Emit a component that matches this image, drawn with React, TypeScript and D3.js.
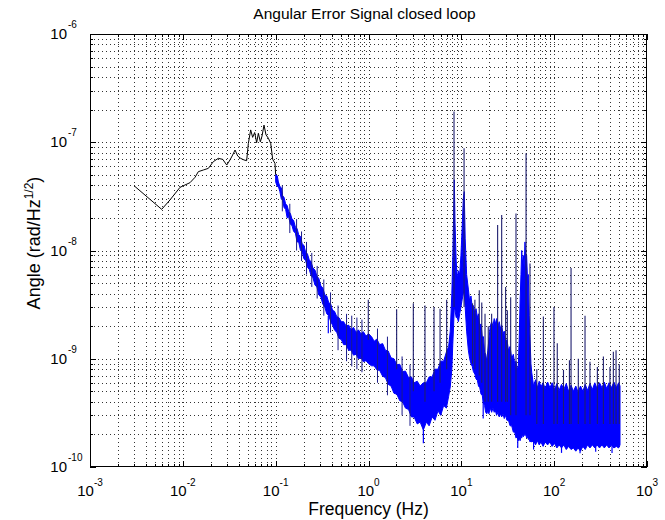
import React from 'react';
import * as d3 from 'd3';

// ---------- data ----------
const titleText = 'Angular Error Signal closed loop';
const xLabelText = 'Frequency (Hz)';
const xTickExps = [-3, -2, -1, 0, 1, 2, 3];
const yTickExps = [-10, -9, -8, -7, -6];

// black low-frequency trace
const lowFreq = [0.00301, 0.00592, 0.00727, 0.00932, 0.01055, 0.01194, 0.01352, 0.01469, 0.01663, 0.01883, 0.0213, 0.0241, 0.0269, 0.0297, 0.0322, 0.0344, 0.0365, 0.039, 0.042, 0.0456, 0.0487, 0.0508, 0.0538, 0.0565, 0.0594, 0.0624, 0.0651, 0.0684, 0.0713, 0.0749, 0.0787, 0.0834, 0.0884, 0.0929, 0.0983, 0.1];
const lowVal = [3.94e-8, 2.4e-8, 2.93e-8, 3.83e-8, 4.03e-8, 4.23e-8, 4.74e-8, 5.35e-8, 5.54e-8, 5.74e-8, 6.62e-8, 7.1e-8, 6.95e-8, 6.16e-8, 6.86e-8, 7.62e-8, 8.48e-8, 7.46e-8, 7.1e-8, 6.86e-8, 6.76e-8, 9.77e-8, 1.3e-7, 1.11e-7, 1.23e-7, 9.91e-8, 1.21e-7, 1.01e-7, 1.14e-7, 1.44e-7, 1.17e-7, 1.09e-7, 9.77e-8, 6.95e-8, 6.38e-8, 5.0e-8];

// blue spectrum: upper / lower edge of the dense trace
const bandFreq = [0.1, 0.104, 0.107, 0.111, 0.115, 0.119, 0.123, 0.128, 0.133, 0.138, 0.144, 0.15, 0.156, 0.163, 0.17, 0.177, 0.185, 0.193, 0.201, 0.21, 0.22, 0.23, 0.24, 0.252, 0.265, 0.278, 0.292, 0.307, 0.322, 0.338, 0.355, 0.373, 0.392, 0.41, 0.43, 0.455, 0.48, 0.51, 0.54, 0.575, 0.61, 0.65, 0.69, 0.735, 0.78, 0.83, 0.88, 0.94, 1.0,
  1.08, 1.15, 1.23, 1.32, 1.42, 1.52, 1.63, 1.75, 1.88, 2.02, 2.17, 2.33, 2.5, 2.7, 2.9, 3.1, 3.35, 3.6, 3.9, 4.2, 4.5, 4.85, 5.2, 5.6, 6.0, 6.45, 6.9, 7.3, 7.6, 7.9, 8.1, 8.25, 8.4, 8.55, 8.8, 9.05, 9.3, 9.6, 9.9, 10.2, 10.5, 10.75, 11.0, 11.4, 11.9, 12.3, 12.7, 13.1, 13.5, 14.0, 14.4, 14.9, 15.3, 15.8, 16.3, 16.8, 17.3, 17.8, 18.3, 18.8, 19.3, 19.8, 20.5, 21.2, 21.9, 22.6, 23.3, 24.0, 24.8, 25.6, 26.4, 27.2, 28.1, 29.0, 30.0, 31.0, 32.2, 33.5, 34.9, 36.3, 37.6, 38.8, 40.0, 41.1, 42.0, 43.0, 43.9, 44.7, 45.6, 46.5, 47.5, 48.5, 49.5, 50.5, 51.6, 52.7, 53.8, 55.0, 56.2, 57.3,
  60, 63, 66, 69, 72, 76, 80, 85, 90, 95, 101, 107, 113, 120, 127, 135, 143, 152, 161, 171, 181, 192, 204, 216, 229, 243, 258, 274, 290, 308, 327, 347, 368, 390, 414, 440, 467, 495, 512];
const bandHi = [5.0e-8, 4.9e-8, 4.3e-8, 3.9e-8, 3.8e-8, 3.2e-8, 3.1e-8, 2.7e-8, 2.6e-8, 2.3e-8, 2.2e-8, 1.95e-8, 1.9e-8, 1.65e-8, 1.6e-8, 1.4e-8, 1.35e-8, 1.15e-8, 1.12e-8, 9.7e-9, 9.3e-9, 8.2e-9, 7.9e-9, 6.9e-9, 6.6e-9, 5.8e-9, 5.5e-9, 4.7e-9, 4.5e-9, 3.9e-9, 3.8e-9, 3.3e-9, 3.2e-9, 2.8e-9, 2.75e-9, 2.45e-9, 2.4e-9, 2.2e-9, 2.2e-9, 2.0e-9, 2.05e-9, 1.85e-9, 1.95e-9, 1.75e-9, 1.85e-9, 1.7e-9, 1.78e-9, 1.62e-9, 1.7e-9,
  1.6e-9, 1.45e-9, 1.52e-9, 1.35e-9, 1.38e-9, 1.2e-9, 1.18e-9, 1.02e-9, 1.0e-9, 8.8e-10, 8.9e-10, 7.6e-10, 7.7e-10, 6.7e-10, 6.8e-10, 6.0e-10, 6.2e-10, 5.6e-10, 6.0e-10, 6.0e-10, 6.8e-10, 6.8e-10, 8.0e-10, 8.0e-10, 9.5e-10, 9.5e-10, 1.15e-9, 1.3e-9, 1.8e-9, 4.0e-9, 9.0e-9, 2.0e-8, 4.5e-8, 1.8e-8, 8.0e-9, 5.5e-9, 6.5e-9, 6.0e-9, 9.0e-9, 1.6e-8, 3.0e-8, 3.5e-8, 1.3e-8, 6.0e-9, 4.4e-9, 3.4e-9, 3.8e-9, 3.0e-9, 3.1e-9, 2.6e-9, 2.9e-9, 2.4e-9, 2.6e-9, 2.0e-9, 2.1e-9, 1.6e-9, 1.6e-9, 1.15e-9, 1.1e-9, 9.5e-10, 1.2e-9, 1.5e-9, 2.0e-9, 2.2e-9, 2.0e-9, 2.35e-9, 2.1e-9, 2.35e-9, 2.0e-9, 2.2e-9, 1.9e-9, 2.05e-9, 1.7e-9, 1.8e-9, 1.45e-9, 1.5e-9, 1.2e-9, 1.3e-9, 1.0e-9, 1.1e-9, 9.0e-10, 9.5e-10, 8.0e-10, 8.6e-10, 1.5e-9, 3.5e-9, 6.0e-9, 1.0e-8, 7.5e-9, 9.0e-9, 7.0e-9, 1.2e-8, 8.0e-9, 9.0e-9, 5.5e-9, 6.0e-9, 2.5e-9, 1.5e-9, 9.0e-10, 7.5e-10,
  5.6e-10, 6.4e-10, 5.4e-10, 6.2e-10, 5.5e-10, 6.0e-10, 5.3e-10, 6.1e-10, 5.4e-10, 6.0e-10, 5.2e-10, 5.9e-10, 5.1e-10, 5.8e-10, 5.2e-10, 5.9e-10, 5.0e-10, 5.7e-10, 5.0e-10, 5.6e-10, 4.9e-10, 5.6e-10, 5.0e-10, 5.8e-10, 5.1e-10, 5.9e-10, 5.2e-10, 6.0e-10, 5.3e-10, 6.0e-10, 5.4e-10, 6.1e-10, 5.3e-10, 6.0e-10, 5.4e-10, 6.1e-10, 5.4e-10, 6.0e-10, 5.6e-10];
const bandLo = [4.3e-8, 3.9e-8, 3.9e-8, 3.5e-8, 3.0e-8, 2.9e-8, 2.5e-8, 2.4e-8, 2.0e-8, 2.05e-8, 1.75e-8, 1.7e-8, 1.5e-8, 1.45e-8, 1.2e-8, 1.2e-8, 1.0e-8, 9.8e-9, 8.4e-9, 8.1e-9, 7.0e-9, 6.7e-9, 5.9e-9, 5.6e-9, 4.8e-9, 4.6e-9, 3.9e-9, 3.7e-9, 3.2e-9, 3.0e-9, 2.6e-9, 2.5e-9, 2.2e-9, 2.05e-9, 1.85e-9, 1.75e-9, 1.55e-9, 1.5e-9, 1.35e-9, 1.35e-9, 1.2e-9, 1.2e-9, 1.08e-9, 1.1e-9, 1.0e-9, 1.02e-9, 9.4e-10, 9.6e-10, 9.0e-10,
  8.6e-10, 8.6e-10, 7.9e-10, 7.8e-10, 6.9e-10, 6.7e-10, 5.8e-10, 5.6e-10, 4.8e-10, 4.7e-10, 4.1e-10, 4.0e-10, 3.5e-10, 3.4e-10, 2.9e-10, 2.9e-10, 2.5e-10, 2.6e-10, 2.2e-10, 2.6e-10, 2.4e-10, 2.9e-10, 2.7e-10, 3.3e-10, 3.0e-10, 3.7e-10, 3.5e-10, 4.5e-10, 5.5e-10, 8.0e-10, 1.4e-9, 2.0e-9, 3.0e-9, 2.8e-9, 2.4e-9, 2.4e-9, 2.2e-9, 2.6e-9, 3.0e-9, 3.5e-9, 4.0e-9, 4.0e-9, 3.0e-9, 1.8e-9, 1.2e-9, 1.0e-9, 9.0e-10, 8.5e-10, 7.6e-10, 7.2e-10, 6.5e-10, 6.3e-10, 5.6e-10, 5.4e-10, 4.7e-10, 4.6e-10, 3.9e-10, 3.7e-10, 3.2e-10, 3.1e-10, 3.3e-10, 3.1e-10, 3.5e-10, 3.2e-10, 3.5e-10, 3.2e-10, 3.3e-10, 3.0e-10, 3.2e-10, 2.9e-10, 3.1e-10, 2.9e-10, 3.1e-10, 2.8e-10, 3.0e-10, 2.7e-10, 2.7e-10, 2.4e-10, 2.4e-10, 2.1e-10, 2.1e-10, 1.85e-10, 1.9e-10, 1.75e-10, 1.8e-10, 1.75e-10, 1.9e-10, 1.85e-10, 2.0e-10, 1.9e-10, 2.0e-10, 1.95e-10, 2.0e-10, 1.85e-10, 1.9e-10, 1.8e-10, 1.8e-10, 1.7e-10, 1.75e-10, 1.7e-10,
  1.75e-10, 1.6e-10, 1.75e-10, 1.6e-10, 1.7e-10, 1.55e-10, 1.7e-10, 1.6e-10, 1.7e-10, 1.55e-10, 1.65e-10, 1.5e-10, 1.6e-10, 1.5e-10, 1.6e-10, 1.45e-10, 1.55e-10, 1.45e-10, 1.5e-10, 1.4e-10, 1.5e-10, 1.4e-10, 1.55e-10, 1.45e-10, 1.6e-10, 1.5e-10, 1.6e-10, 1.5e-10, 1.6e-10, 1.5e-10, 1.6e-10, 1.5e-10, 1.6e-10, 1.5e-10, 1.6e-10, 1.5e-10, 1.55e-10, 1.5e-10, 1.6e-10];

// short noise strokes crossing the band (0.1 - 3 Hz)
const noiseFreq = [0.118, 0.142, 0.168, 0.19, 0.215, 0.245, 0.28, 0.33, 0.39, 0.47, 0.58, 0.66, 0.75, 0.85, 1.25, 1.6, 2.3, 2.8];
const noiseTop = [4.0e-8, 2.7e-8, 1.95e-8, 1.5e-8, 1.2e-8, 9.5e-9, 7.2e-9, 5.4e-9, 4.1e-9, 3.1e-9, 2.6e-9, 2.5e-9, 2.4e-9, 2.3e-9, 1.9e-9, 1.6e-9, 1.05e-9, 8.8e-10];
const noiseBottom = [2.3e-8, 1.45e-8, 1.0e-8, 8.0e-9, 6.0e-9, 4.6e-9, 3.6e-9, 2.5e-9, 1.75e-9, 1.2e-9, 9.5e-10, 8.5e-10, 8.0e-10, 7.5e-10, 6.0e-10, 4.6e-10, 3.0e-10, 2.4e-10];

// narrow lines sticking out of the band
const spikeFreq = [0.995, 2.01, 3.04, 4.06, 5.08, 5.9, 6.95, 8.34, 10.7, 13.2, 14.0, 15.6, 16.6, 18.0, 19.5, 21.2, 24.6, 27.2, 30.0, 31.3, 34.0, 38.8, 49.8, 54.9, 65, 76.5, 99.5, 108, 126, 146, 152, 182, 215, 243, 292, 339, 399, 434, 464, 503];
const spikeTop = [3.5e-9, 2.86e-9, 3.25e-9, 3.1e-9, 3.0e-9, 2.9e-9, 3.5e-9, 1.92e-7, 8.8e-8, 3.25e-9, 3.5e-9, 4.3e-9, 3.3e-9, 2.6e-9, 2.0e-9, 2.6e-9, 1.72e-8, 2.13e-8, 4.6e-9, 2.8e-9, 3.7e-9, 2.2e-8, 7.9e-8, 7.6e-9, 8.0e-10, 2.45e-9, 3.0e-9, 1.39e-9, 7.9e-10, 9.7e-10, 6.9e-9, 1.0e-9, 2.5e-9, 9.4e-10, 8.4e-10, 1.05e-9, 8.4e-10, 1.16e-9, 1.2e-9, 8.9e-10];
const spikeBase = [1.5e-9, 8e-10, 5e-10, 4e-10, 5e-10, 6e-10, 8e-10, 3e-9, 3e-9, 9e-10, 8e-10, 7e-10, 6e-10, 4e-10, 4e-10, 4e-10, 4e-10, 4e-10, 4e-10, 4e-10, 3e-10, 3e-10, 3e-10, 3e-10, 2.5e-10, 2.5e-10, 2.5e-10, 2.5e-10, 2.5e-10, 2.5e-10, 2.5e-10, 2.5e-10, 2.5e-10, 2.5e-10, 2.5e-10, 2.5e-10, 2.5e-10, 2.5e-10, 2.5e-10, 2.5e-10];

// downward excursions below the band
const dipFreq = [0.369, 3.9, 17.2, 40.5, 60, 120, 190, 280, 420];
const dipBottom = [1.72e-9, 1.66e-10, 2.8e-10, 1.5e-10, 1.45e-10, 1.35e-10, 1.34e-10, 1.38e-10, 1.35e-10];
const dipBase = [2.5e-9, 3e-10, 4.5e-10, 2.2e-10, 2e-10, 2e-10, 2e-10, 2e-10, 2e-10];

// ---------- layout ----------
const W = 665, H = 520;
const L = 90, R = 647, T = 34, B = 467;
const FONT = '"Liberation Sans", Arial, sans-serif';

export default function App() {
  const x = d3.scaleLog().domain([1e-3, 1e3]).range([L, R]);
  const y = d3.scaleLog().domain([1e-10, 1e-6]).range([B, T]);

  const xMinor: number[] = [];
  for (let e = -3; e < 3; e++) for (let m = 2; m <= 9; m++) xMinor.push(m * Math.pow(10, e));
  const yMinor: number[] = [];
  for (let e = -10; e < -6; e++) for (let m = 2; m <= 9; m++) yMinor.push(m * Math.pow(10, e));
  const xMajor = xTickExps.map(e => Math.pow(10, e));
  const yMajor = yTickExps.map(e => Math.pow(10, e));
  const px = (v: number) => Math.round(x(v)) + 0.5;
  const py = (v: number) => Math.round(y(v)) + 0.5;

  const lowPts = lowFreq.map((f, i) => [f, lowVal[i]] as [number, number]);
  const lowLine = d3.line<[number, number]>().x(d => x(d[0])).y(d => y(d[1]))(lowPts) || '';

  const band = bandFreq.map((f, i) => ({ f, hi: bandHi[i], lo: bandLo[i] }));
  const bandPath = d3.area<{ f: number; hi: number; lo: number }>()
    .x(d => x(d.f)).y0(d => y(d.lo)).y1(d => y(d.hi))(band) || '';

  const gridStyle = { stroke: '#333', strokeWidth: 1, strokeDasharray: '1 3' };
  const blue = '#0000ff';

  return (
    <svg width={W} height={H} style={{ position: 'absolute', left: 0, top: 0, background: '#fff' }}
      fontFamily={FONT}>
      <rect x={0} y={0} width={W} height={H} fill="#fff" />
      {/* grid */}
      <g>
        {[...xMinor, ...xMajor].filter(v => v > 1e-3 && v < 1e3).map((v, i) => (
          <line key={'gx' + i} x1={px(v)} x2={px(v)} y1={T} y2={B} style={gridStyle} />
        ))}
        {[...yMinor, ...yMajor].filter(v => v > 1e-10 && v < 1e-6).map((v, i) => (
          <line key={'gy' + i} x1={L} x2={R} y1={py(v)} y2={py(v)} style={gridStyle} />
        ))}
      </g>
      {/* data */}
      <path d={lowLine} fill="none" stroke="#000" strokeWidth={1} />
      <path d={bandPath} fill={blue} stroke={blue} strokeWidth={1} />
      {noiseFreq.map((f, i) => (
        <line key={'n' + i} x1={x(f)} x2={x(f)} y1={y(noiseBottom[i])} y2={y(noiseTop[i])} stroke="#1a1a8a" strokeWidth={1} />
      ))}
      {spikeFreq.map((f, i) => (
        <line key={'s' + i} x1={x(f)} x2={x(f)} y1={y(spikeBase[i])} y2={y(spikeTop[i])} stroke="#1e1e6e" strokeWidth={1.1} />
      ))}
      {dipFreq.map((f, i) => (
        <line key={'d' + i} x1={x(f)} x2={x(f)} y1={y(dipBase[i])} y2={y(dipBottom[i])} stroke={blue} strokeWidth={1.2} />
      ))}
      {/* box */}
      <rect x={L + 0.5} y={T + 0.5} width={R - L - 1} height={B - T - 1} fill="none" stroke="#000" strokeWidth={1} />
      {/* ticks */}
      <g stroke="#000" strokeWidth={1}>
        {xMajor.map((v, i) => (
          <g key={'xt' + i}>
            <line x1={px(v)} x2={px(v)} y1={B} y2={B - 6} />
            <line x1={px(v)} x2={px(v)} y1={T} y2={T + 6} />
          </g>
        ))}
        {xMinor.map((v, i) => (
          <g key={'xm' + i}>
            <line x1={px(v)} x2={px(v)} y1={B} y2={B - 3} />
            <line x1={px(v)} x2={px(v)} y1={T} y2={T + 3} />
          </g>
        ))}
        {yMajor.map((v, i) => (
          <g key={'yt' + i}>
            <line x1={L} x2={L + 6} y1={py(v)} y2={py(v)} />
            <line x1={R} x2={R - 6} y1={py(v)} y2={py(v)} />
          </g>
        ))}
        {yMinor.map((v, i) => (
          <g key={'ym' + i}>
            <line x1={L} x2={L + 3} y1={py(v)} y2={py(v)} />
            <line x1={R} x2={R - 3} y1={py(v)} y2={py(v)} />
          </g>
        ))}
      </g>
      {/* x tick labels */}
      {xTickExps.map((e, i) => (
        <text key={'xl' + i} x={x(Math.pow(10, e))} y={496} textAnchor="middle" fontSize={15} fill="#000">
          10<tspan dy={-10} fontSize={10}>{String(e)}</tspan>
        </text>
      ))}
      {/* y tick labels */}
      {yTickExps.map((e, i) => (
        <g key={'yl' + i}>
          <text x={67} y={y(Math.pow(10, e)) + 5} textAnchor="end" fontSize={15} fill="#000">10</text>
          <text x={68} y={y(Math.pow(10, e)) - 6} textAnchor="start" fontSize={10} fill="#000">{String(e)}</text>
        </g>
      ))}
      {/* title and axis labels */}
      <text x={(L + R) / 2 - 4} y={19} textAnchor="middle" fontSize={15.5} fill="#000">{titleText}</text>
      <text x={(L + R) / 2} y={515} textAnchor="middle" fontSize={17.5} fill="#000">{xLabelText}</text>
      <text transform={`translate(40, 243) rotate(-90)`} textAnchor="middle" fontSize={18} fill="#000">
        Angle (rad/Hz<tspan dy={-7} fontSize={12}>1/2</tspan><tspan dy={7}>)</tspan>
      </text>
    </svg>
  );
}
